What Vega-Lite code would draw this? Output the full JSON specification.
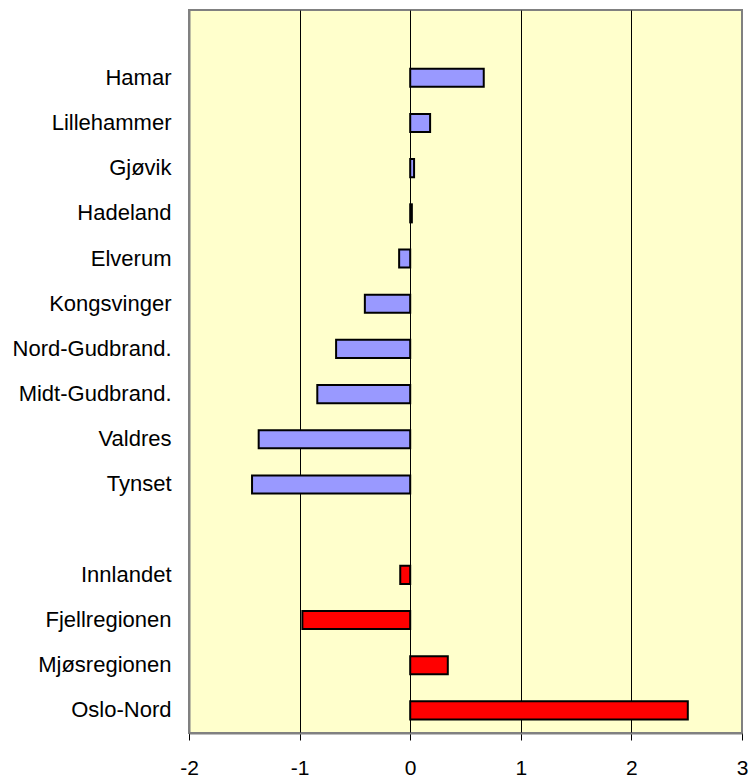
{
  "$schema": "https://vega.github.io/schema/vega-lite/v6.json",
  "width": 553,
  "height": 723,
  "autosize": "none",
  "padding": {"left": 189, "top": 10, "right": 8, "bottom": 45},
  "background": "white",
  "config": {
    "view": {"fill": "#FFFFCC", "stroke": "#808080", "strokeWidth": 2},
    "font": "Liberation Sans"
  },
  "data": {
    "values": [
      {"region": "Hamar", "value": 0.665, "group": "Kommune"},
      {"region": "Lillehammer", "value": 0.18, "group": "Kommune"},
      {"region": "Gjøvik", "value": 0.035, "group": "Kommune"},
      {"region": "Hadeland", "value": 0.015, "group": "Kommune"},
      {"region": "Elverum", "value": -0.1, "group": "Kommune"},
      {"region": "Kongsvinger", "value": -0.41, "group": "Kommune"},
      {"region": "Nord-Gudbrand.", "value": -0.67, "group": "Kommune"},
      {"region": "Midt-Gudbrand.", "value": -0.84, "group": "Kommune"},
      {"region": "Valdres", "value": -1.37, "group": "Kommune"},
      {"region": "Tynset", "value": -1.43, "group": "Kommune"},
      {"region": "Innlandet", "value": -0.09, "group": "Region"},
      {"region": "Fjellregionen", "value": -0.975, "group": "Region"},
      {"region": "Mjøsregionen", "value": 0.34, "group": "Region"},
      {"region": "Oslo-Nord", "value": 2.51, "group": "Region"}
    ]
  },
  "mark": {"type": "bar", "stroke": "black", "strokeWidth": 2},
  "encoding": {
    "y": {
      "field": "region",
      "type": "nominal",
      "sort": null,
      "scale": {
        "domain": [" ", "Hamar", "Lillehammer", "Gjøvik", "Hadeland", "Elverum", "Kongsvinger", "Nord-Gudbrand.", "Midt-Gudbrand.", "Valdres", "Tynset", "  ", "Innlandet", "Fjellregionen", "Mjøsregionen", "Oslo-Nord"],
        "paddingInner": 0.6,
        "paddingOuter": 0.3
      },
      "axis": {
        "title": null,
        "ticks": false,
        "grid": false,
        "domainColor": "#808080",
        "domainWidth": 2,
        "labelFont": "Liberation Sans",
        "labelFontSize": 22,
        "labelColor": "black",
        "labelPadding": 18
      }
    },
    "x": {
      "field": "value",
      "type": "quantitative",
      "scale": {"domain": [-2, 3], "nice": false, "zero": false},
      "axis": {
        "title": null,
        "values": [-2, -1, 0, 1, 2, 3],
        "labelExpr": "'' + datum.value",
        "grid": true,
        "gridColor": {"condition": {"test": "datum.value === -2 || datum.value === 3", "value": "#808080"}, "value": "black"},
        "gridWidth": 1,
        "gridOpacity": 1,
        "domainColor": "#808080",
        "domainWidth": 2,
        "tickColor": "black",
        "tickSize": 7,
        "tickWidth": 1,
        "labelFont": "Liberation Sans",
        "labelFontSize": 21,
        "labelColor": "black",
        "labelPadding": 17,
        "labelFlush": false,
        "labelOverlap": false
      }
    },
    "color": {
      "field": "group",
      "type": "nominal",
      "scale": {"domain": ["Kommune", "Region"], "range": ["#9999FF", "#FF0000"]},
      "legend": null
    }
  }
}
